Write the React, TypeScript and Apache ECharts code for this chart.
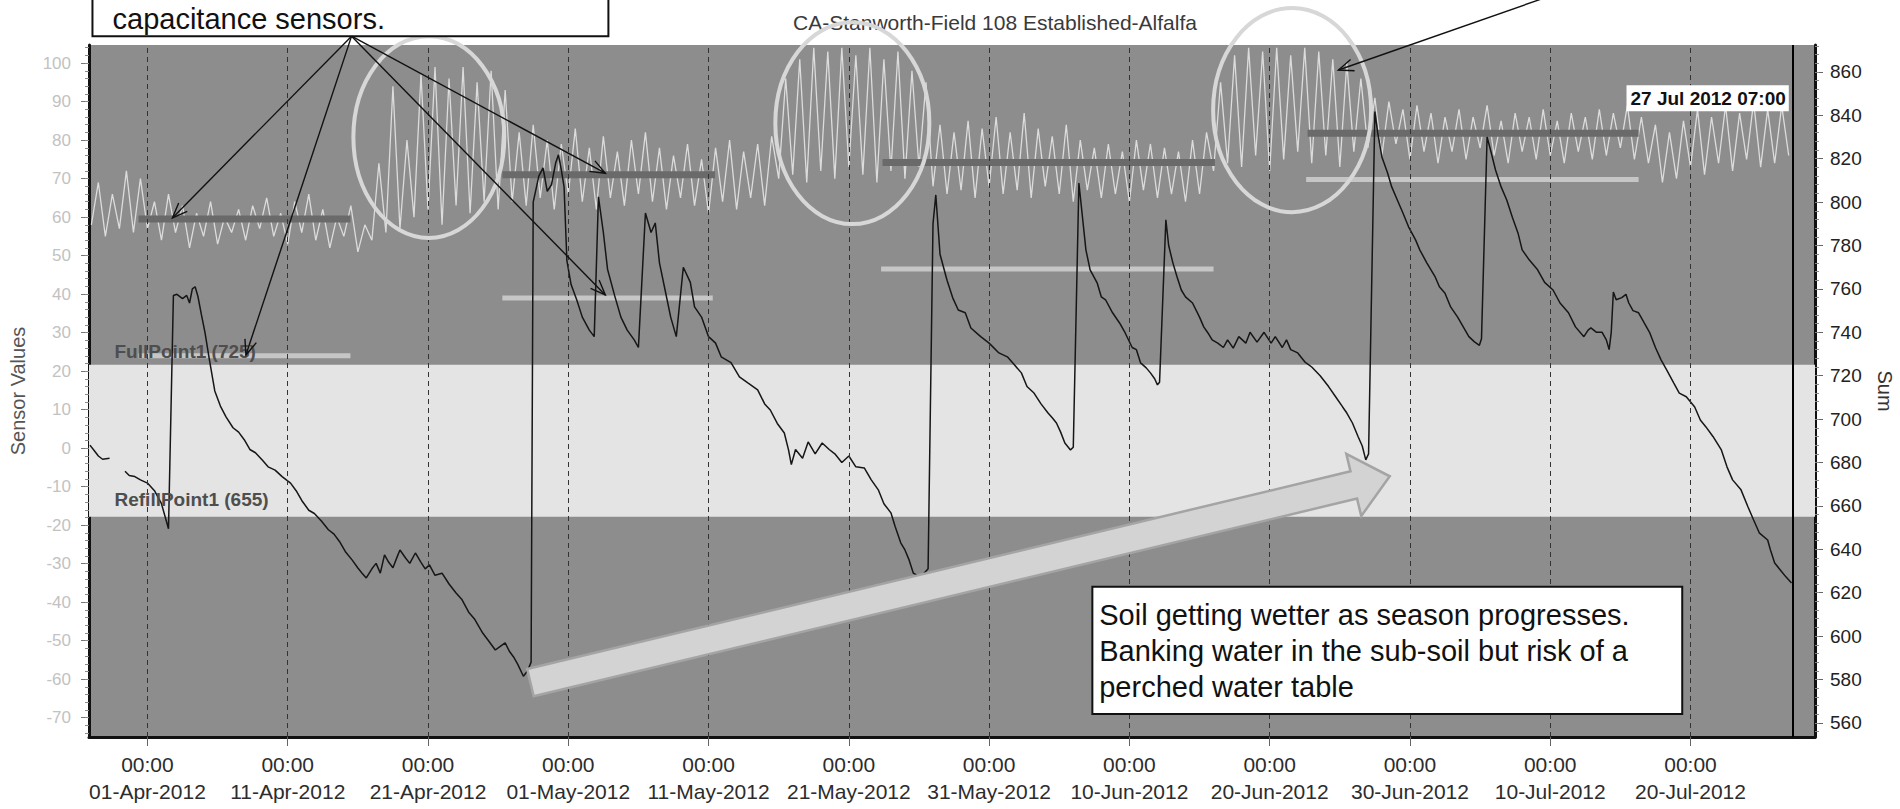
import React, { useEffect, useRef } from 'react';
import * as echarts from 'echarts';

// ---------------- data ----------------
const DAY_MS = 86400000;
const START_DATE = Date.UTC(2012, 3, 1, 0, 0); // 01-Apr-2012 00:00
const AXIS_START = Date.UTC(2012, 2, 27, 20, 0);
const AXIS_END = Date.UTC(2012, 6, 28, 21, 0);
const CURSOR_TIME = Date.UTC(2012, 6, 27, 7, 0);
const CURSOR_LABEL = '27 Jul 2012 07:00';

const TITLE = 'CA-Stanworth-Field 108 Established-Alfalfa';
const LEFT_AXIS_NAME = 'Sensor Values';
const RIGHT_AXIS_NAME = 'Sum';
const MONTHS = ['Jan', 'Feb', 'Mar', 'Apr', 'May', 'Jun', 'Jul', 'Aug', 'Sep', 'Oct', 'Nov', 'Dec'];

const labelDays = [0, 10, 20, 30, 40, 50, 60, 70, 80, 90, 100, 110];
const leftTickValues = [-70, -60, -50, -40, -30, -20, -10, 0, 10, 20, 30, 40, 50, 60, 70, 80, 90, 100];
const rightTickValues = [560, 580, 600, 620, 640, 660, 680, 700, 720, 740, 760, 780, 800, 820, 840, 860];

const FULL_POINT_NAME = 'FullPoint1';
const FULL_POINT_VALUE = 725;
const REFILL_POINT_NAME = 'RefillPoint1';
const REFILL_POINT_VALUE = 655;

// light sensor trace (left axis), one reading every 12 h from day -4
const sensorStartDay = -4;
const sensorStepDays = 0.5;
const sensorValues = [
  58, 69, 55, 66, 57, 72, 56, 70, 57, 64, 54, 66,
  56, 63, 52, 61, 55, 64, 53, 60, 56, 62, 54, 63, 57, 65, 55, 61, 53, 64, 56, 66, 54, 62, 52, 60, 55, 63, 51, 58,
  54, 74, 56, 94, 57, 80,
  60, 97, 62, 99, 58, 96, 63, 99, 61, 95, 64, 98, 62, 93,
  64, 82, 63, 84, 65, 80, 62, 79, 66, 83, 64, 78, 62, 81, 65, 77, 63, 80, 66, 82, 64, 78, 62, 76, 65, 79, 63, 75, 61, 78, 64, 80, 62, 77, 65, 79, 63, 81,
  70, 96, 71, 101, 69, 104, 72, 103, 70, 104, 73, 102, 71, 104, 69, 101, 72, 103, 70, 98, 73, 95,
  68, 84, 66, 82, 67, 85, 65, 83, 68, 86, 66, 82, 67, 87, 65, 83, 68, 81, 66, 84, 64, 80, 67, 78, 65, 79, 66, 77, 64, 80, 67, 79, 65, 78, 66, 77, 64, 80, 66, 82,
  72, 95, 74, 102, 73, 104, 76, 103, 72, 104, 75, 102, 77, 104, 74, 103, 76, 101, 73, 100, 77, 96,
  78, 91, 76, 90, 79, 88, 75, 89, 77, 87, 74, 86, 77, 88, 75, 86, 78, 89, 76, 85, 74, 87, 77, 86, 75, 88, 76, 85, 74, 87, 77, 86, 75, 88, 76, 87, 78, 89, 75, 86,
  74, 84, 69, 82, 70, 85, 73, 88, 71, 86, 74, 89, 72, 87, 75, 90, 73, 88, 74, 89, 76,
];

// black "Sum" trace (right axis): [day since 01-Apr, value]
const sumPoints = [
  [-4.1, 688], [-3.8, 685.5], [-3.5, 683], [-3.2, 681.5], [-2.7, 682], [-2.2, null], [-1.6, 676], [-1.3, 674], [-0.9, 673.5], [-0.5, 672],
  [0.0, 670.5], [0.5, 667], [1.0, 661], [1.5, 649.5], [1.85, 757], [2.1, 757.5], [2.5, 755.5], [2.8, 757], [3.0, 753.5], [3.2, 760],
  [3.4, 761], [3.6, 756.5], [3.85, 748], [4.1, 740], [4.4, 728], [4.8, 713], [5.2, 706], [5.6, 701], [6.1, 696], [6.5, 694],
  [6.9, 690.5], [7.3, 686], [7.7, 684.5], [8.2, 681], [8.6, 678], [9.1, 676.5], [9.6, 673.5], [10.2, 670.5], [10.6, 667], [11.0, 662.5],
  [11.5, 658], [11.9, 656.5], [12.4, 653], [12.9, 649], [13.3, 647], [13.7, 643.5], [14.1, 639], [14.6, 635], [15.0, 631.4], [15.3, 629],
  [15.6, 626.8], [16.0, 631], [16.3, 633.5], [16.6, 629], [16.9, 637.4], [17.2, 634], [17.5, 631.5], [17.8, 636.5], [18.0, 639.7], [18.4, 636],
  [18.7, 633.5], [19.1, 638.3], [19.5, 634], [19.8, 631], [20.1, 632.8], [20.5, 628], [21.0, 629], [21.5, 624], [22.0, 619.9], [22.4, 617],
  [22.9, 611], [23.3, 608], [23.9, 601.4], [24.3, 598], [24.8, 593.6], [25.1, 595], [25.5, 596.9], [25.8, 593], [26.1, 590.4], [26.4, 587],
  [26.8, 581.5], [27.1, 584], [27.35, 588], [27.5, 800], [27.9, 812], [28.2, 815.8], [28.5, 805], [28.8, 808], [29.1, 818], [29.3, 821.8],
  [29.5, 815], [29.7, 807], [29.9, 773], [30.2, 762], [30.6, 755], [31.0, 747], [31.5, 741], [31.85, 738], [32.15, 802.4], [32.5, 786],
  [32.8, 769], [33.3, 757], [33.75, 747], [34.2, 741], [34.7, 736.5], [35.0, 733], [35.5, 795], [35.9, 786], [36.2, 790.4], [36.5, 772],
  [36.9, 759.5], [37.3, 747], [37.7, 738], [38.2, 770], [38.7, 763], [39.0, 751.7], [39.5, 747], [40.0, 738], [40.5, 735], [40.9, 728.7],
  [41.6, 726], [42.2, 719.5], [42.8, 716.7], [43.5, 713.5], [44.0, 707], [44.4, 704.2], [44.9, 698], [45.4, 693.6], [45.7, 685.8], [45.9, 679],
  [46.2, 686], [46.7, 682], [47.1, 689.5], [47.6, 684], [48.1, 689], [48.6, 686], [49.0, 684], [49.5, 680], [50.0, 683], [50.5, 678],
  [51.1, 677.5], [51.6, 672], [52.1, 667.4], [52.5, 661], [53.0, 656.8], [53.3, 650.5], [53.7, 643], [54.0, 639.7], [54.3, 635], [54.6, 629],
  [55.0, 627.5], [55.3, 628.5], [55.65, 631], [56.0, 790], [56.2, 803.3], [56.5, 776], [57.0, 764], [57.4, 756], [57.8, 750.3], [58.3, 749],
  [58.7, 742], [59.4, 738], [60.0, 735], [60.7, 730.5], [61.3, 728.7], [61.8, 725], [62.3, 721.3], [62.7, 715], [63.2, 712], [63.7, 707],
  [64.2, 702.8], [64.5, 700.6], [64.8, 698.2], [65.1, 694], [65.4, 689], [65.8, 685.8], [66.0, 687], [66.4, 808.8], [66.9, 778], [67.2, 768.8],
  [67.7, 762.8], [68.0, 756.3], [68.3, 755], [68.8, 749], [69.3, 744.3], [69.7, 739.7], [70.2, 733], [70.5, 732], [70.8, 725.9], [71.2, 723.6],
  [71.5, 721.3], [71.8, 718.6], [72.0, 715.8], [72.15, 717], [72.6, 791.8], [72.8, 780], [73.1, 772], [73.4, 765.5], [73.7, 759.5], [74.0, 756.3],
  [74.5, 753.5], [75.0, 747], [75.3, 742.5], [75.6, 739.7], [75.9, 736.5], [76.3, 735], [76.7, 733], [77.0, 736.5], [77.4, 732.7], [77.8, 738],
  [78.3, 735], [78.6, 740], [79.1, 735.5], [79.6, 740], [80.1, 735], [80.4, 738], [80.9, 733], [81.2, 736.5], [81.5, 732], [82.0, 730.5],
  [82.5, 726.4], [83.0, 724], [83.6, 720], [84.2, 715], [84.7, 710.3], [85.2, 705.6], [85.5, 702.8], [85.9, 698.2], [86.3, 692], [86.6, 687.6],
  [86.85, 681.2], [87.05, 684], [87.5, 841.7], [87.7, 832], [88.0, 820.8], [88.4, 813.5], [88.7, 807], [89.1, 801], [89.5, 795], [89.9, 788.6],
  [90.4, 782.6], [90.7, 778], [91.2, 772], [91.8, 765.5], [92.1, 761], [92.5, 758], [92.9, 751.7], [93.4, 747], [93.8, 742.5], [94.2, 738],
  [94.6, 735.6], [94.95, 734], [95.1, 737], [95.5, 830], [95.8, 822.6], [96.1, 814.8], [96.5, 807], [96.9, 801], [97.3, 793], [97.7, 785.8],
  [98.0, 778], [98.5, 773.4], [99.1, 768.8], [99.6, 763], [100.2, 759.5], [100.7, 753.5], [101.3, 749], [101.8, 742.5], [102.4, 738], [102.7, 741],
  [102.9, 742], [103.3, 740], [103.7, 740], [104.0, 736.5], [104.2, 732], [104.35, 740], [104.5, 758.6], [104.7, 755], [105.1, 756], [105.4, 757.5],
  [105.6, 753.5], [105.9, 750], [106.3, 749], [106.7, 744.3], [107.1, 739.7], [107.5, 733], [107.9, 727.3], [108.3, 722.7], [108.8, 716.7], [109.2, 712],
  [109.7, 710.3], [110.3, 705.6], [110.7, 699.6], [111.1, 696.4], [111.6, 692], [112.2, 685.8], [112.6, 678], [113.0, 672], [113.6, 667.4], [114.1, 659.5],
  [114.5, 653.5], [114.9, 647.6], [115.5, 644.3], [115.7, 639.7], [116.0, 633.7], [116.4, 630.5], [116.8, 627.3], [117.2, 624.5],
];

// hand-drawn level bars (left axis units, days since 01-Apr)
const darkBarFrom = [-0.64, 25.3, 52.4, 82.7];
const darkBarTo = [14.47, 40.46, 76.1, 106.3];
const darkBarValue = [59.5, 71, 74.2, 81.8];
const lightBarFrom = [-0.64, 25.3, 52.3, 82.6];
const lightBarTo = [14.47, 40.3, 76.0, 106.3];
const lightBarValue = [24, 39, 46.5, 69.8];

const calloutTopText = 'capacitance sensors.';
const calloutBottomText = [
  'Soil getting wetter as season progresses.',
  'Banking water in the sub-soil but risk of a',
  'perched water table',
];

// ---------------- annotation geometry (data space: day, left-axis value) ----------------
const OVALS = [
  { day: 20.06, value: 80.8, rDays: 5.38, rValue: 26.2 },
  { day: 50.25, value: 84.4, rDays: 5.49, rValue: 26.2 },
  { day: 81.6, value: 87.8, rDays: 5.63, rValue: 26.5 },
];
const TOP_BOX = { left: -3.92, right: 32.86, top: 135, bottom: 107.0, textDay: -2.49, textValue: 111.55 };
const TOP_ARROW_FROM = { day: 14.55, value: 107.0 };
const TOP_ARROW_TIPS = [
  { day: 1.78, value: 59.8 },
  { day: 7.02, value: 24.2 },
  { day: 32.64, value: 71.4 },
  { day: 32.64, value: 39.8 },
];
const RIGHT_ARROW = { from: { day: 99.65, value: 117 }, to: { day: 84.9, value: 98.2 } };
const BOTTOM_BOX = { left: 67.36, right: 109.41, top: -36.0, bottom: -69.0, textDay: 67.85, textValue: -38.6 };
const BIG_ARROW = { tail: { day: 27.3, value: -60.9 }, tip: { day: 88.56, value: -7.3 } };
const BAND_LABEL_DAY = -2.35;
const CURSOR_LABEL_VALUE = 90.9;

const FONT = '"Liberation Sans", Arial, Helvetica, sans-serif';

const dayToTime = (d: number) => START_DATE + d * DAY_MS;
const pad2 = (n: number) => (n < 10 ? '0' + n : '' + n);
const fmtX = (v: number) => {
  const d = new Date(v);
  return `${pad2(d.getUTCHours())}:${pad2(d.getUTCMinutes())}\n${pad2(d.getUTCDate())}-${MONTHS[d.getUTCMonth()]}-${d.getUTCFullYear()}`;
};

function buildOption() {
  const minorX: number[] = [];
  for (let d = -2.5; d <= 118; d += 2.5) minorX.push(dayToTime(d));
  const minorLeft: number[] = [];
  for (let v = -74; v <= 104; v += 2) minorLeft.push(v);
  const minorRight: number[] = [];
  for (let v = 556; v <= 872; v += 4) minorRight.push(v);

  const barSeries = (from: number[], to: number[], val: number[], color: string, width: number, z: number) =>
    from.map((f, i) => ({
      type: 'line',
      xAxisIndex: 0,
      yAxisIndex: 0,
      data: [[dayToTime(f), val[i]], [dayToTime(to[i]), val[i]]],
      showSymbol: false,
      symbol: 'none',
      silent: true,
      z,
      lineStyle: { color, width, cap: 'butt' },
    }));

  return {
    animation: false,
    textStyle: { fontFamily: FONT },
    title: {
      text: TITLE,
      left: 990,
      top: 7,
      textAlign: 'center',
      textStyle: { fontFamily: FONT, fontSize: 21, fontWeight: 'normal', color: '#3a3a3a' },
    },
    grid: {
      left: 89,
      right: 85,
      top: 45,
      bottom: 72,
      show: true,
      backgroundColor: '#8d8d8d',
      borderWidth: 0,
      containLabel: false,
      outerBoundsMode: 'none',
    },
    xAxis: [
      {
        type: 'value',
        min: AXIS_START,
        max: AXIS_END,
        position: 'bottom',
        axisLine: { show: true, onZero: false, lineStyle: { color: '#111', width: 3 } },
        axisTick: { show: true, customValues: labelDays.map(dayToTime), length: 9, lineStyle: { color: '#666', width: 1 } },
        axisLabel: {
          customValues: labelDays.map(dayToTime),
          formatter: fmtX,
          fontFamily: FONT,
          fontSize: 21,
          lineHeight: 27,
          color: '#2c2c2c',
          margin: 14,
        },
        splitLine: { show: false },
      },
      {
        type: 'value',
        min: AXIS_START,
        max: AXIS_END,
        position: 'bottom',
        axisLine: { show: false },
        axisTick: { show: true, customValues: minorX, length: 5, lineStyle: { color: '#777', width: 1 } },
        axisLabel: { show: false },
        splitLine: { show: false },
      },
    ],
    yAxis: [
      {
        type: 'value',
        min: -75,
        max: 104.7,
        position: 'left',
        name: LEFT_AXIS_NAME,
        nameLocation: 'middle',
        nameGap: 61,
        nameTextStyle: { fontFamily: FONT, fontSize: 20, color: '#555' },
        axisLine: { show: true, onZero: false, lineStyle: { color: '#111', width: 3 } },
        axisTick: { show: true, customValues: leftTickValues, length: 8, lineStyle: { color: '#777', width: 1 } },
        axisLabel: { customValues: leftTickValues, fontFamily: FONT, fontSize: 17, color: '#c2c2c2', margin: 18 },
        splitLine: { show: false },
      },
      {
        type: 'value',
        min: 553.5,
        max: 872.4,
        position: 'right',
        name: RIGHT_AXIS_NAME,
        nameLocation: 'middle',
        nameGap: 60,
        nameRotate: -90,
        nameTextStyle: { fontFamily: FONT, fontSize: 20, color: '#333' },
        axisLine: { show: true, onZero: false, lineStyle: { color: '#111', width: 3 } },
        axisTick: { show: true, customValues: rightTickValues, length: 8, lineStyle: { color: '#666', width: 1 } },
        axisLabel: { customValues: rightTickValues, fontFamily: FONT, fontSize: 19, color: '#222', margin: 15 },
        splitLine: { show: false },
      },
      {
        type: 'value',
        min: -75,
        max: 104.7,
        position: 'left',
        axisLine: { show: false },
        axisTick: { show: true, customValues: minorLeft, length: 4, lineStyle: { color: '#888', width: 1 } },
        axisLabel: { show: false },
        splitLine: { show: false },
      },
      {
        type: 'value',
        min: 553.5,
        max: 872.4,
        position: 'right',
        axisLine: { show: false },
        axisTick: { show: true, customValues: minorRight, length: 4, lineStyle: { color: '#888', width: 1 } },
        axisLabel: { show: false },
        splitLine: { show: false },
      },
    ],
    series: [
      {
        name: 'band',
        type: 'line',
        xAxisIndex: 0,
        yAxisIndex: 1,
        data: [],
        z: 1,
        silent: true,
        markArea: {
          silent: true,
          itemStyle: { color: '#e4e4e4' },
          data: [[{ yAxis: REFILL_POINT_VALUE }, { yAxis: FULL_POINT_VALUE }]],
        },
      },
      {
        name: 'Sensor',
        type: 'line',
        xAxisIndex: 0,
        yAxisIndex: 0,
        data: sensorValues.map((v, i) => [dayToTime(sensorStartDay + i * sensorStepDays), v]),
        showSymbol: false,
        symbol: 'none',
        z: 2,
        lineStyle: { color: '#dcdcdc', width: 1.3 },
        markLine: {
          silent: true,
          symbol: ['none', 'none'],
          label: { show: false },
          lineStyle: { color: '#333', width: 1, type: [5, 4] },
          data: [
            ...labelDays.map((d) => ({ xAxis: dayToTime(d) })),
            { xAxis: CURSOR_TIME, lineStyle: { color: '#000', width: 2, type: 'solid' } },
          ],
        },
      },
      ...barSeries(lightBarFrom, lightBarTo, lightBarValue, '#c6c6c6', 5, 3),
      ...barSeries(darkBarFrom, darkBarTo, darkBarValue, '#6a6a6a', 7, 3),
      {
        name: 'Sum',
        type: 'line',
        xAxisIndex: 0,
        yAxisIndex: 1,
        data: sumPoints.map(([d, v]) => [dayToTime(d as number), v == null ? '-' : v]),
        showSymbol: false,
        symbol: 'none',
        connectNulls: false,
        z: 4,
        lineStyle: { color: '#161616', width: 1.5 },
      },
    ],
  };
}

function buildGraphics(chart: any) {
  const P = (day: number, v: number) =>
    chart.convertToPixel({ xAxisIndex: 0, yAxisIndex: 0 }, [dayToTime(day), v]) as number[];
  const PR = (day: number, v: number) =>
    chart.convertToPixel({ xAxisIndex: 0, yAxisIndex: 1 }, [dayToTime(day), v]) as number[];
  const els: any[] = [];

  // white band labels
  const fullY = PR(BAND_LABEL_DAY, FULL_POINT_VALUE);
  const refillY = PR(BAND_LABEL_DAY, REFILL_POINT_VALUE);
  els.push({
    type: 'text', x: fullY[0], y: fullY[1] - 4, z: 30, silent: true,
    style: { text: `${FULL_POINT_NAME} (${FULL_POINT_VALUE})`, font: `bold 19px ${FONT}`, fill: '#4e4e4e', verticalAlign: 'bottom', align: 'left' },
  });
  els.push({
    type: 'text', x: refillY[0], y: refillY[1] - 8, z: 30, silent: true,
    style: { text: `${REFILL_POINT_NAME} (${REFILL_POINT_VALUE})`, font: `bold 19px ${FONT}`, fill: '#4e4e4e', verticalAlign: 'bottom', align: 'left' },
  });

  // cursor label
  const cx = chart.convertToPixel({ xAxisIndex: 0 }, CURSOR_TIME) as number;
  const cy = P(0, CURSOR_LABEL_VALUE)[1];
  els.push({
    type: 'text', x: cx - 4, y: cy, z: 30, silent: true,
    style: {
      text: CURSOR_LABEL, font: `bold 19px ${FONT}`, fill: '#111', align: 'right', verticalAlign: 'middle',
      backgroundColor: '#ffffff', padding: [4, 3, 3, 4],
    },
  });

  // big grey arrow
  const t = P(BIG_ARROW.tail.day, BIG_ARROW.tail.value);
  const h = P(BIG_ARROW.tip.day, BIG_ARROW.tip.value);
  {
    const dx = h[0] - t[0];
    const dy = h[1] - t[1];
    const len = Math.hypot(dx, dy);
    const ux = dx / len, uy = dy / len;
    const nx = -uy, ny = ux;
    const sw = 14, hw = 32, hl = 37;
    const b = [h[0] - ux * hl, h[1] - uy * hl];
    els.push({
      type: 'polygon', z: 40, silent: true,
      shape: {
        points: [
          [t[0] - nx * sw, t[1] - ny * sw],
          [b[0] - nx * sw, b[1] - ny * sw],
          [b[0] - nx * hw, b[1] - ny * hw],
          [h[0], h[1]],
          [b[0] + nx * hw, b[1] + ny * hw],
          [b[0] + nx * sw, b[1] + ny * sw],
          [t[0] + nx * sw, t[1] + ny * sw],
        ],
      },
      style: { fill: '#d3d3d3', stroke: '#a4a4a4', lineWidth: 2.5 },
    });
  }

  // ovals
  OVALS.forEach((o) => {
    const c = P(o.day, o.value);
    const ex = P(o.day + o.rDays, o.value)[0];
    const ey = P(o.day, o.value + o.rValue)[1];
    els.push({
      type: 'ellipse', z: 50, silent: true,
      shape: { cx: c[0], cy: c[1], rx: Math.abs(ex - c[0]), ry: Math.abs(c[1] - ey) },
      style: { fill: 'none', stroke: '#d7d7d7', lineWidth: 4 },
    });
  });

  // thin arrows
  const arrow = (a: number[], b: number[]) => {
    const dx = b[0] - a[0], dy = b[1] - a[1];
    const len = Math.hypot(dx, dy);
    const ux = dx / len, uy = dy / len;
    const hl = 15, hw = 6;
    const l = [b[0] - ux * hl - uy * hw, b[1] - uy * hl + ux * hw];
    const r = [b[0] - ux * hl + uy * hw, b[1] - uy * hl - ux * hw];
    els.push({ type: 'line', z: 62, silent: true, shape: { x1: a[0], y1: a[1], x2: b[0], y2: b[1] }, style: { stroke: '#111', lineWidth: 1.4 } });
    els.push({ type: 'polyline', z: 62, silent: true, shape: { points: [l, b, r] }, style: { stroke: '#111', lineWidth: 1.4, fill: 'none' } });
  };

  // top-left callout box
  {
    const a = P(TOP_BOX.left, TOP_BOX.top);
    const b = P(TOP_BOX.right, TOP_BOX.bottom);
    els.push({
      type: 'rect', z: 60, silent: true,
      shape: { x: a[0], y: a[1], width: b[0] - a[0], height: b[1] - a[1] },
      style: { fill: '#ffffff', stroke: '#111', lineWidth: 2 },
    });
    const tp = P(TOP_BOX.textDay, TOP_BOX.textValue);
    els.push({
      type: 'text', x: tp[0], y: tp[1], z: 61, silent: true,
      style: { text: calloutTopText, font: `29px ${FONT}`, fill: '#111', verticalAlign: 'middle', align: 'left' },
    });
    const o = P(TOP_ARROW_FROM.day, TOP_ARROW_FROM.value);
    TOP_ARROW_TIPS.forEach((tip) => arrow(o, P(tip.day, tip.value)));
  }
  arrow(P(RIGHT_ARROW.from.day, RIGHT_ARROW.from.value), P(RIGHT_ARROW.to.day, RIGHT_ARROW.to.value));

  // bottom callout box
  {
    const a = P(BOTTOM_BOX.left, BOTTOM_BOX.top);
    const b = P(BOTTOM_BOX.right, BOTTOM_BOX.bottom);
    els.push({
      type: 'rect', z: 60, silent: true,
      shape: { x: a[0], y: a[1], width: b[0] - a[0], height: b[1] - a[1] },
      style: { fill: '#ffffff', stroke: '#111', lineWidth: 2 },
    });
    const tp = P(BOTTOM_BOX.textDay, BOTTOM_BOX.textValue);
    els.push({
      type: 'text', x: tp[0], y: tp[1], z: 61, silent: true,
      style: { text: calloutBottomText.join('\n'), font: `29px ${FONT}`, fill: '#111', verticalAlign: 'top', align: 'left', lineHeight: 36 },
    });
  }
  return els;
}

export default function App() {
  const ref = useRef<HTMLDivElement>(null);
  useEffect(() => {
    if (!ref.current) return;
    const chart = echarts.init(ref.current, null, { renderer: 'svg' });
    chart.setOption(buildOption() as any);
    chart.setOption({ graphic: buildGraphics(chart) } as any);
    return () => chart.dispose();
  }, []);
  return (
    <div
      ref={ref}
      style={{ position: 'absolute', left: 0, top: 0, width: 1900, height: 809, background: '#ffffff', overflow: 'hidden' }}
    />
  );
}
